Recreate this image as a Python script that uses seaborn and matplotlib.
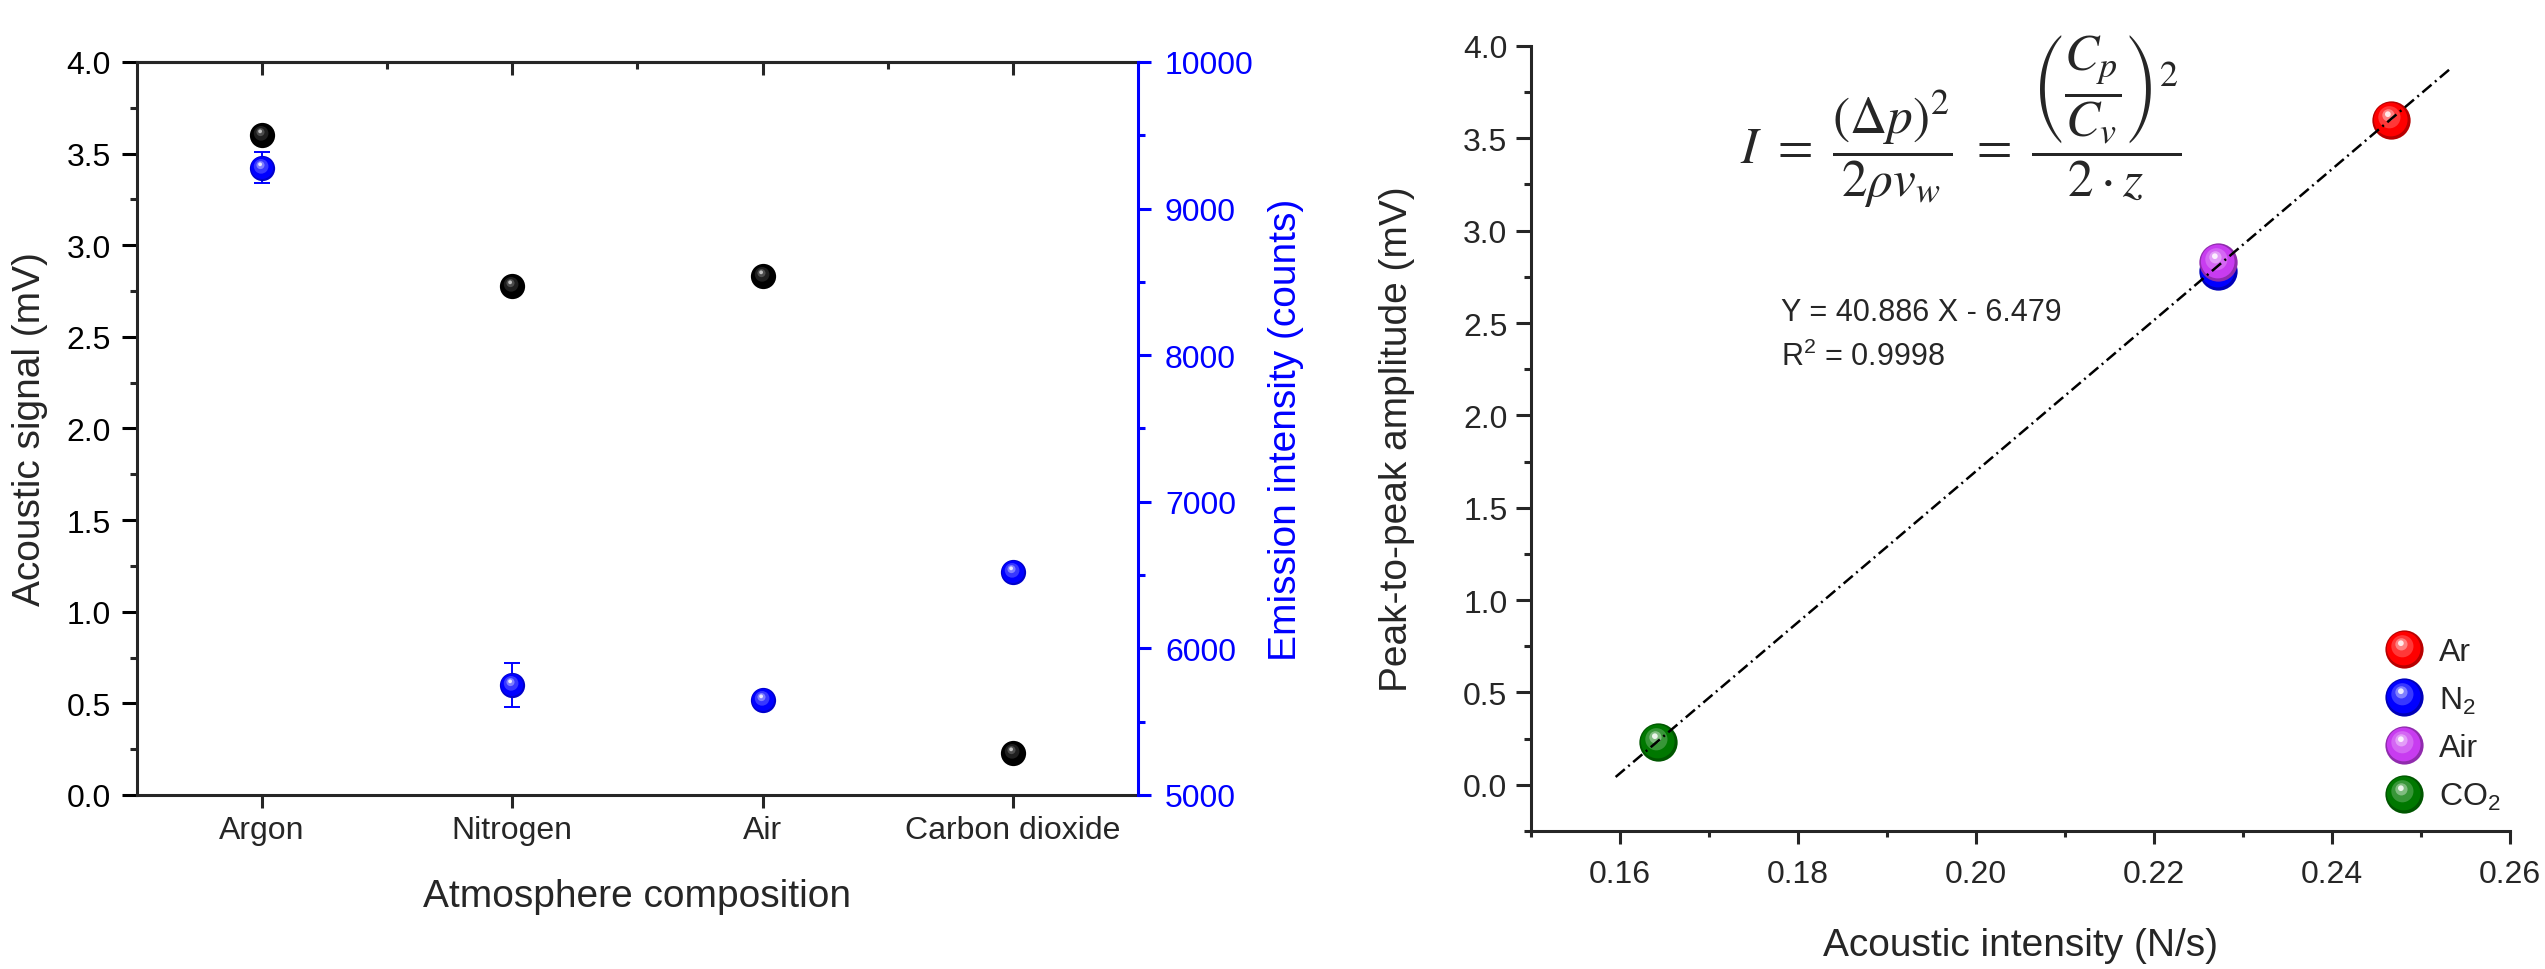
import numpy as np
import pandas as pd
import matplotlib
matplotlib.use("Agg")
import matplotlib.pyplot as plt
from matplotlib.path import Path
from matplotlib.lines import Line2D
from matplotlib.legend_handler import HandlerTuple
from matplotlib.ticker import MultipleLocator, FixedLocator, NullLocator
import matplotlib.colors as mcolors
import seaborn as sns

# ---------------- data ----------------
atmospheres = ["Argon", "Nitrogen", "Air", "Carbon dioxide"]
acoustic_signal_mV = [3.60, 2.78, 2.83, 0.23]
emission_counts = [9280, 5750, 5650, 6520]
emission_err = [105, 150, 20, 25]

gases = ["Ar", "N$_2$", "Air", "CO$_2$"]
acoustic_intensity = [0.2466, 0.2272, 0.2272, 0.1643]
peak_to_peak_mV = [3.60, 2.78, 2.83, 0.23]
gas_colors = ["#ff0000", "#0000ff", "#c83cf0", "#007800"]

fit_slope = 40.886
fit_intercept = -6.479
fit_r2 = 0.9998
fit_x_span = [0.1595, 0.2535]

# ---------------- style ----------------
sns.set_style("ticks")
plt.rcParams["font.family"] = ["Liberation Sans", "DejaVu Sans"]
plt.rcParams["mathtext.fontset"] = "custom"
plt.rcParams["mathtext.rm"] = "Liberation Sans"
plt.rcParams["mathtext.it"] = "Liberation Sans:italic"
plt.rcParams["mathtext.bf"] = "Liberation Sans:bold"

TICK_FS = 23
LABEL_FS = 28
SPINE_W = 2.2


def disc(r, cx, cy):
    """Circle marker offset inside a fixed [-1, 1] frame, so that it scales
    together with a plain circle of the same marker size."""
    anchor = Path([(-1, -1), (1, 1)], [Path.MOVETO, Path.MOVETO])
    return Path.make_compound_path(anchor, Path.circle((cx, cy), r))


SHADE = [(0.88, -0.04, 0.05), (0.58, -0.11, 0.17), (0.32, -0.16, 0.27), (0.15, -0.19, 0.33)]


def shade_colors(color, dark=False):
    rgb = np.array(mcolors.to_rgb(color))
    white = np.ones(3)
    mixes = [0.0, 0.12, 0.3, 0.75] if dark else [0.0, 0.22, 0.5, 0.92]
    base = rgb * 0.72 if not dark else rgb
    return base, [rgb * (1 - m) + white * m for m in mixes]


def ball_layers(ax, x, y, color, s, dark=False, zorder=4):
    _, cols = shade_colors(color, dark)
    for (r, cx, cy), c in zip(SHADE, cols):
        ax.scatter(x, y, s=s, marker=disc(r, cx, cy), color=c,
                   linewidths=0, zorder=zorder)


fig = plt.figure(figsize=(25.45, 9.7), dpi=100)

# ================= left panel =================
ax = fig.add_axes([0.0538, 0.1794, 0.3933, 0.7557])
xpos = np.arange(len(atmospheres))
left_df = pd.DataFrame({"atmosphere": atmospheres, "pos": xpos,
                        "signal": acoustic_signal_mV,
                        "counts": emission_counts, "err": emission_err})

S_LEFT = 330
sns.scatterplot(data=left_df, x="pos", y="signal", color="black", s=S_LEFT,
                linewidth=0, ax=ax, zorder=4, legend=False)
ball_layers(ax, left_df["pos"], left_df["signal"], "black", S_LEFT, dark=True)

ax2 = ax.twinx()
ax2.errorbar(left_df["pos"], left_df["counts"], yerr=left_df["err"], fmt="none",
             ecolor="blue", elinewidth=1.4, capsize=5.5, capthick=1.4, zorder=1)
sns.scatterplot(data=left_df, x="pos", y="counts", color="#0000cc", s=S_LEFT,
                linewidth=0, ax=ax2, zorder=4, legend=False)
ball_layers(ax2, left_df["pos"], left_df["counts"], "#0000ff", S_LEFT)

ax.set_xlim(-0.5, len(atmospheres) - 0.5)
ax.set_ylim(0, 4)
ax2.set_ylim(5000, 10000)

ax.set_xticks(xpos, atmospheres)
ax.xaxis.set_minor_locator(NullLocator())
ax.yaxis.set_major_locator(MultipleLocator(0.5))
ax.yaxis.set_minor_locator(MultipleLocator(0.25))
ax.tick_params(axis="y", which="major", direction="out", length=11, width=SPINE_W,
               labelsize=TICK_FS, pad=8, colors="black")
ax.tick_params(axis="y", which="minor", direction="out", length=5, width=SPINE_W)
ax.tick_params(axis="x", which="major", direction="out", length=9.5, width=SPINE_W,
               labelsize=TICK_FS, pad=5)

top = ax.secondary_xaxis("top")
top.xaxis.set_major_locator(FixedLocator(xpos))
top.xaxis.set_minor_locator(FixedLocator(xpos[:-1] + 0.5))
top.tick_params(which="major", direction="in", length=9.5, width=SPINE_W, labeltop=False)
top.tick_params(which="minor", direction="in", length=5, width=SPINE_W)
top.spines["top"].set_linewidth(SPINE_W)

for side in ["left", "bottom", "top"]:
    ax.spines[side].set_linewidth(SPINE_W)
    ax2.spines[side].set_visible(False)
ax.spines["right"].set_visible(False)
ax2.spines["right"].set_color("blue")
ax2.spines["right"].set_linewidth(SPINE_W)

ax2.yaxis.set_major_locator(MultipleLocator(1000))
ax2.yaxis.set_minor_locator(MultipleLocator(500))
ax2.tick_params(axis="y", which="major", direction="out", length=9.5, width=SPINE_W,
                labelsize=TICK_FS, pad=10, colors="blue")
ax2.tick_params(axis="y", which="minor", direction="out", length=5, width=SPINE_W,
                colors="blue")

ax.set_xlabel("Atmosphere composition", fontsize=LABEL_FS)
ax.xaxis.set_label_coords(0.5, -0.113)
ax.set_ylabel("Acoustic signal (mV)", fontsize=LABEL_FS)
ax.yaxis.set_label_coords(-0.089, 0.5)
ax2.set_ylabel("Emission intensity (counts)", fontsize=LABEL_FS, color="blue")
ax2.yaxis.set_label_coords(1.13, 0.5)

# ================= right panel =================
axr = fig.add_axes([0.6016, 0.1423, 0.3847, 0.8093])
right_df = pd.DataFrame({"gas": gases, "intensity": acoustic_intensity,
                         "amplitude": peak_to_peak_mV, "color": gas_colors})

S_RIGHT = 760
for _, row in right_df.iterrows():
    base, _ = shade_colors(row["color"])
    sns.scatterplot(x=[row["intensity"]], y=[row["amplitude"]], color=base,
                    s=S_RIGHT, linewidth=0, ax=axr, zorder=4, legend=False)
    ball_layers(axr, [row["intensity"]], [row["amplitude"]], row["color"], S_RIGHT)

fit_x = np.array(fit_x_span)
sns.lineplot(x=fit_x, y=fit_slope * fit_x + fit_intercept, ax=axr, color="black",
             linewidth=1.8, linestyle=(0, (4.8, 1.8, 0.8, 1.8)), zorder=5)

axr.set_xlim(0.15, 0.26)
axr.set_ylim(-0.25, 4.0)
axr.xaxis.set_major_locator(MultipleLocator(0.02))
axr.xaxis.set_minor_locator(MultipleLocator(0.01))
axr.yaxis.set_major_locator(MultipleLocator(0.5))
axr.yaxis.set_minor_locator(MultipleLocator(0.25))
axr.tick_params(axis="x", which="major", direction="out", length=9, width=SPINE_W,
                labelsize=TICK_FS, pad=11)
axr.tick_params(axis="x", which="minor", direction="out", length=4.5, width=SPINE_W)
axr.tick_params(axis="y", which="major", direction="out", length=11, width=SPINE_W,
                labelsize=TICK_FS, pad=6)
axr.tick_params(axis="y", which="minor", direction="out", length=5, width=SPINE_W)
axr.spines["top"].set_visible(False)
axr.spines["right"].set_visible(False)
axr.spines["left"].set_linewidth(SPINE_W)
axr.spines["bottom"].set_linewidth(SPINE_W)

axr.set_xlabel("Acoustic intensity (N/s)", fontsize=LABEL_FS)
axr.xaxis.set_label_coords(0.5, -0.122)
axr.set_ylabel("Peak-to-peak amplitude (mV)", fontsize=LABEL_FS)
axr.yaxis.set_label_coords(-0.1185, 0.5)

sign = "-" if fit_intercept < 0 else "+"
axr.text(0.255, 0.661, f"Y = {fit_slope:.3f} X {sign} {abs(fit_intercept):.3f}",
         transform=axr.transAxes, fontsize=22, va="center", ha="left")
axr.text(0.255, 0.604, f"R$^2$ = {fit_r2}", transform=axr.transAxes,
         fontsize=22, va="center", ha="left")

equation = (r"$I\ =\ \dfrac{(\Delta p)^2}{2\rho v_w}\ =\ "
            r"\dfrac{\left(\dfrac{C_p}{C_v}\right)^2}{2\cdot z}$")
axr.text(0.439, 0.905, equation, transform=axr.transAxes, fontsize=37,
         ha="center", va="center", math_fontfamily="stix")

handles = []
for c in gas_colors:
    base, cols = shade_colors(c)
    layer = [Line2D([], [], marker="o", markersize=27.5, color=base,
                    markeredgewidth=0, linestyle="none")]
    for (r, cx, cy), lc in zip(SHADE, cols):
        layer.append(Line2D([], [], marker=disc(r, cx, cy), markersize=27.5,
                            color=lc, markeredgewidth=0, linestyle="none"))
    handles.append(tuple(layer))
axr.legend(handles, gases, handler_map={tuple: HandlerTuple(ndivide=1, pad=0)},
           loc="lower right", bbox_to_anchor=(1.01, 0.0), frameon=False,
           fontsize=TICK_FS, handletextpad=0.5, labelspacing=0.55,
           borderaxespad=0.2, handlelength=1.2)

fig.savefig("out.png", dpi=100, facecolor="white")
